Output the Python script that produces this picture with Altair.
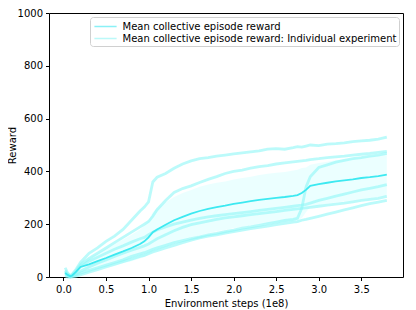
import altair as alt
import pandas as pd

steps = [0.02, 0.05, 0.08, 0.1, 0.15, 0.2, 0.3, 0.4, 0.5, 0.6, 0.7, 0.8, 0.9, 0.95,
         1.0, 1.05, 1.1, 1.2, 1.3, 1.4, 1.5, 1.6, 1.7, 1.8, 1.9, 2.0, 2.1, 2.2, 2.3,
         2.4, 2.5, 2.6, 2.7, 2.75, 2.8, 2.85, 2.9, 3.0, 3.1, 3.2, 3.3, 3.4, 3.5, 3.6,
         3.7, 3.8]

run_a = [35, 15, 5, 10, 30, 55, 90, 110, 135, 155, 180, 215, 250, 265,
         285, 360, 378, 392, 412, 428, 440, 448, 452, 458, 462, 466, 470, 474, 478,
         484, 486, 484, 490, 494, 492, 496, 500, 498, 503, 505, 508, 513, 516, 518,
         522, 530]
run_b = [20, 10, 5, 8, 25, 45, 70, 90, 110, 130, 150, 170, 190, 200,
         210, 230, 255, 290, 320, 335, 345, 358, 370, 380, 392, 400, 405, 412, 418,
         422, 428, 432, 436, 438, 440, 442, 445, 448, 452, 455, 458, 462, 465, 468,
         472, 476]
run_c = [10, 5, 0, 2, 8, 15, 25, 35, 45, 55, 65, 78, 88, 92,
         98, 105, 110, 120, 130, 138, 145, 152, 160, 165, 172, 178, 185, 190, 196,
         202, 208, 214, 218, 222, 260, 340, 380, 415, 425, 435, 442, 448, 452, 458,
         462, 468]
run_d = [25, 10, 3, 5, 20, 40, 60, 75, 90, 105, 118, 132, 145, 150,
         160, 170, 178, 190, 200, 208, 215, 222, 228, 232, 236, 240, 244, 248, 252,
         256, 260, 264, 268, 270, 272, 275, 280, 290, 298, 306, 314, 322, 330, 336,
         342, 350]
run_e = [15, 5, 0, 3, 10, 22, 38, 52, 65, 78, 90, 102, 112, 118,
         125, 135, 145, 160, 175, 188, 198, 205, 212, 218, 224, 228, 232, 236, 240,
         244, 248, 252, 256, 258, 260, 262, 264, 268, 272, 276, 280, 285, 290, 294,
         298, 305]
run_f = [5, 0, 0, 0, 3, 8, 18, 28, 38, 48, 58, 68, 78, 82,
         88, 95, 100, 110, 120, 130, 140, 148, 155, 160, 166, 172, 178, 183, 188,
         193, 198, 203, 208, 210, 215, 218, 222, 230, 238, 246, 254, 262, 270, 278,
         284, 290]

mean_reward = [15, 8, 3, 5, 20, 38, 48, 60, 72, 85, 97, 110, 125, 135,
               150, 170, 180, 198, 215, 228, 240, 250, 258, 265, 270, 277, 282, 287, 292,
               296, 300, 303, 307, 310, 318, 330, 345, 352, 357, 362, 366, 370, 375, 378,
               382, 388]
band_low = [0, 0, 0, 0, 5, 18, 23, 30, 37, 45, 52, 60, 70, 75,
            85, 95, 100, 113, 127, 138, 150, 158, 166, 173, 178, 185, 189, 194, 198,
            201, 205, 208, 211, 214, 223, 245, 265, 272, 277, 282, 286, 290, 295, 298,
            302, 308]
band_high = [30, 16, 7, 10, 35, 58, 73, 90, 107, 125, 142, 160, 180, 195,
             215, 245, 260, 283, 303, 318, 330, 342, 350, 357, 362, 369, 375, 380, 386,
             391, 395, 398, 403, 406, 413, 415, 425, 432, 437, 442, 446, 450, 455, 458,
             462, 468]

x_ticks = [0.0, 0.5, 1.0, 1.5, 2.0, 2.5, 3.0, 3.5]
y_ticks = [0, 200, 400, 600, 800, 1000]

MEAN = "Mean collective episode reward"
INDIV = "Mean collective episode reward: Individual experiment"

runs = {"a": run_a, "b": run_b, "c": run_c, "d": run_d, "e": run_e, "f": run_f}
rows = []
for name, vals in runs.items():
    for s, v in zip(steps, vals):
        rows.append({"step": s, "reward": v, "run": name, "series": INDIV})
indiv_df = pd.DataFrame(rows)
mean_df = pd.DataFrame({"step": steps, "reward": mean_reward, "series": MEAN})
band_df = pd.DataFrame({"step": steps, "low": band_low, "high": band_high})

FONT = "DejaVu Sans"
FS = 10
xscale = alt.Scale(domain=[-0.17, 3.99], nice=False, zero=False)
yscale = alt.Scale(domain=[0, 1000], nice=False)

xaxis = alt.Axis(values=x_ticks, format=".1f", title="Environment steps (1e8)",
                 grid=False, tickSize=3.5, labelPadding=3.5, titlePadding=4,
                 domain=False, tickColor="black", labelColor="black",
                 labelFont=FONT, titleFont=FONT, labelFontSize=FS, titleFontSize=FS,
                 titleFontWeight="normal", titleColor="black")
yaxis = alt.Axis(values=y_ticks, format="d", title="Reward", grid=False, tickSize=3.5,
                 labelPadding=3, titleX=-36.5, titleBaseline="middle",
                 domain=False, tickColor="black",
                 labelColor="black", labelFont=FONT, titleFont=FONT,
                 labelFontSize=FS, titleFontSize=FS, titleFontWeight="normal",
                 titleColor="black")

color = alt.Color("series:N",
                  scale=alt.Scale(domain=[MEAN, INDIV], range=["#3de9f1", "#8ef6f6"]),
                  legend=alt.Legend(title=None, orient="top-right", offset=4,
                                    symbolType="M-0.85,0H2.85", symbolSize=144,
                                    symbolStrokeWidth=1.5, labelOffset=16,
                                    labelFont=FONT, labelFontSize=FS,
                                    labelColor="black", labelLimit=400,
                                    rowPadding=0, padding=2.5,
                                    strokeColor="#d0d0d0", fillColor="white",
                                    cornerRadius=3))

band = alt.Chart(band_df).mark_area(color="#00ffff", opacity=0.08).encode(
    x=alt.X("step:Q", scale=xscale, axis=xaxis),
    y=alt.Y("low:Q", scale=yscale, axis=yaxis),
    y2="high:Q",
)

indiv = alt.Chart(indiv_df).mark_line(strokeWidth=2.8, opacity=0.6).encode(
    x=alt.X("step:Q", scale=xscale, axis=xaxis),
    y=alt.Y("reward:Q", scale=yscale, axis=yaxis),
    color=color,
    detail="run:N",
)

mean = alt.Chart(mean_df).mark_line(strokeWidth=1.8).encode(
    x=alt.X("step:Q", scale=xscale, axis=xaxis),
    y=alt.Y("reward:Q", scale=yscale, axis=yaxis),
    color=color,
)

chart = alt.layer(band, indiv, mean).properties(
    width=354, height=264,
    autosize=alt.AutoSizeParams(type="none"),
    padding={"left": 41, "top": 5, "right": 5, "bottom": 33},
).configure_view(stroke="black", strokeWidth=1)

chart.save("out.html", embed_options={"renderer": "svg", "actions": False})
